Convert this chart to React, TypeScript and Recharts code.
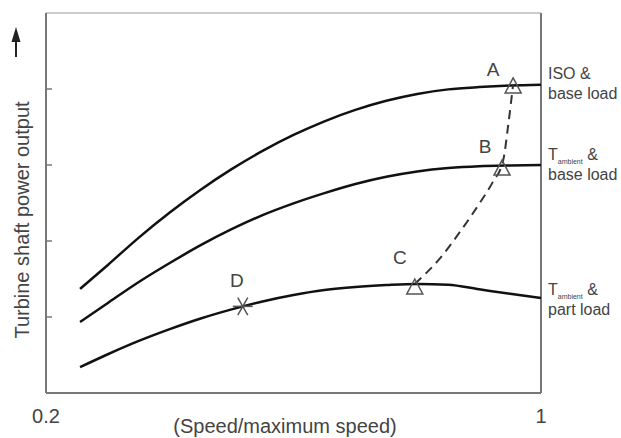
import { ComposedChart, Line, Scatter, XAxis, YAxis, ReferenceLine } from 'recharts';

// speed ratio sampled along the three operating lines
const speed = [0.255, 0.3, 0.35, 0.4, 0.45, 0.5, 0.55, 0.6, 0.65, 0.7, 0.75, 0.8, 0.85, 0.9, 0.95, 1.0];
const isoBaseLoad = [0.274, 0.337, 0.409, 0.475, 0.535, 0.589, 0.637, 0.679, 0.715, 0.745, 0.769, 0.787, 0.799, 0.805, 0.809, 0.811];
const ambientBaseLoad = [0.187, 0.237, 0.292, 0.342, 0.389, 0.431, 0.468, 0.499, 0.526, 0.55, 0.569, 0.583, 0.592, 0.597, 0.599, 0.6];
const ambientPartLoad = [0.068, 0.102, 0.137, 0.168, 0.196, 0.22, 0.241, 0.258, 0.271, 0.279, 0.284, 0.287, 0.285, 0.273, 0.261, 0.25];

// dashed path A -> B -> C
const pathSpeed = [0.796, 0.837, 0.869, 0.901, 0.922, 0.939, 0.947, 0.955];
const pathPower = [0.287, 0.355, 0.424, 0.5, 0.555, 0.613, 0.705, 0.813];

const pointNames = ['A', 'B', 'C', 'D'];
const pointSpeed = [0.955, 0.937, 0.796, 0.518];
const pointPower = [0.808, 0.592, 0.279, 0.228];

const yTicks = [0.2, 0.4, 0.6, 0.8];
const xTicks = [0.2, 1];

const toRows = (xs: number[], ys: number[]) => xs.map((s, i) => ({ speed: s, power: ys[i] }));

const isoRows = toRows(speed, isoBaseLoad);
const ambientRows = toRows(speed, ambientBaseLoad);
const partRows = toRows(speed, ambientPartLoad);
const pathRows = toRows(pathSpeed, pathPower);
const pointRows = pointNames.map((name, i) => ({ name, speed: pointSpeed[i], power: pointPower[i] }));
const triangleRows = pointRows.filter((p) => p.name !== 'D');
const starRows = pointRows.filter((p) => p.name === 'D');
const endRows = [
  { speed: 1, power: isoBaseLoad[isoBaseLoad.length - 1], key: 'iso' },
  { speed: 1, power: ambientBaseLoad[ambientBaseLoad.length - 1], key: 'base' },
  { speed: 1, power: ambientPartLoad[ambientPartLoad.length - 1], key: 'part' },
];

const TEXT = '#444';
const FONT = 'Liberation Sans, Arial, sans-serif';
const labelOffset: Record<string, [number, number]> = {
  A: [-20, -10],
  B: [-17, -15],
  C: [-15, -23],
  D: [-6, -19],
};

const PointLabel = ({ cx, cy, name }: { cx: number; cy: number; name: string }) => {
  const [dx, dy] = labelOffset[name];
  return (
    <text x={cx + dx} y={cy + dy} textAnchor="middle" fontSize={19} fill={TEXT} fontFamily={FONT}>
      {name}
    </text>
  );
};

const Triangle = (props: any) => {
  const { cx, cy, payload } = props;
  return (
    <g>
      <polygon
        points={`${cx},${cy - 8} ${cx - 8},${cy + 7} ${cx + 8},${cy + 7}`}
        fill="none"
        stroke="#555"
        strokeWidth={1.5}
      />
      <PointLabel cx={cx} cy={cy} name={payload.name} />
    </g>
  );
};

const Asterisk = (props: any) => {
  const { cx, cy, payload } = props;
  const r = 10;
  const arms = [0, 60, 120].map((deg) => {
    const a = (deg * Math.PI) / 180;
    return (
      <line
        key={deg}
        x1={cx - r * Math.cos(a)}
        y1={cy - r * Math.sin(a)}
        x2={cx + r * Math.cos(a)}
        y2={cy + r * Math.sin(a)}
        stroke="#555"
        strokeWidth={1.5}
      />
    );
  });
  return (
    <g>
      {arms}
      <PointLabel cx={cx} cy={cy} name={payload.name} />
    </g>
  );
};

const EndLabel = (props: any) => {
  const { cx, cy, payload } = props;
  const x = cx + 7;
  const sub = (
    <>
      T<tspan fontSize={7} dy={4}>ambient</tspan>
      <tspan dy={-4}> &amp;</tspan>
    </>
  );
  let first: any = 'ISO &';
  let second = 'base load';
  let top = cy - 6;
  if (payload.key === 'base') {
    first = sub;
    top = cy - 5;
  }
  if (payload.key === 'part') {
    first = sub;
    second = 'part load';
    top = cy - 3;
  }
  return (
    <text fontSize={16} fill={TEXT} fontFamily={FONT}>
      <tspan x={x} y={top}>{first}</tspan>
      <tspan x={x} y={top + 20}>{second}</tspan>
    </text>
  );
};

const XTick = (props: any) => {
  const { x, y, payload } = props;
  return (
    <text x={x} y={y + 22} textAnchor="middle" fontSize={20} fill={TEXT} fontFamily={FONT}>
      {payload.value}
    </text>
  );
};

export default function App() {
  return (
    <div style={{ position: 'absolute', left: 0, top: 0, width: 621, height: 438, background: '#fff' }}>
      <ComposedChart width={621} height={438} margin={{ top: 13, right: 80, bottom: 0, left: 46 }}>
        <XAxis
          type="number"
          dataKey="speed"
          domain={[0.2, 1]}
          ticks={xTicks}
          tickLine={false}
          tick={<XTick />}
          height={45}
          axisLine={{ stroke: '#777', strokeWidth: 2 }}
        />
        <YAxis
          type="number"
          domain={[0, 1]}
          ticks={yTicks}
          mirror
          tickSize={6}
          tickFormatter={() => ''}
          axisLine={{ stroke: '#777', strokeWidth: 2 }}
          tickLine={{ stroke: '#777', strokeWidth: 1.5 }}
        />
        <ReferenceLine y={1} stroke="#bbb" strokeWidth={1.5} />
        <ReferenceLine x={1} stroke="#777" strokeWidth={2} />
        <Line data={isoRows} dataKey="power" type="monotone" stroke="#111" strokeWidth={2.5} dot={false} isAnimationActive={false} />
        <Line data={ambientRows} dataKey="power" type="monotone" stroke="#111" strokeWidth={2.5} dot={false} isAnimationActive={false} />
        <Line data={partRows} dataKey="power" type="monotone" stroke="#111" strokeWidth={2.5} dot={false} isAnimationActive={false} />
        <Line
          data={pathRows}
          dataKey="power"
          type="monotone"
          stroke="#333"
          strokeWidth={2}
          strokeDasharray="9 6"
          dot={false}
          isAnimationActive={false}
        />
        <Scatter data={triangleRows} dataKey="power" shape={<Triangle />} isAnimationActive={false} />
        <Scatter data={starRows} dataKey="power" shape={<Asterisk />} isAnimationActive={false} />
        <Scatter data={endRows} dataKey="power" shape={<EndLabel />} isAnimationActive={false} />
      </ComposedChart>
      <svg width={621} height={438} style={{ position: 'absolute', left: 0, top: 0, pointerEvents: 'none' }}>
        <line x1={16} y1={57} x2={16} y2={40} stroke="#222" strokeWidth={2} />
        <polygon points="11.5,42 16,27 20.5,42" fill="#222" />
        <text
          transform="translate(22,220) rotate(-90)"
          textAnchor="middle"
          dominantBaseline="central"
          fontSize={20}
          fill={TEXT}
          fontFamily={FONT}
        >
          Turbine shaft power output
        </text>
        <text x={285} y={433} textAnchor="middle" fontSize={20} fill={TEXT} fontFamily={FONT}>
          (Speed/maximum speed)
        </text>
      </svg>
    </div>
  );
}
